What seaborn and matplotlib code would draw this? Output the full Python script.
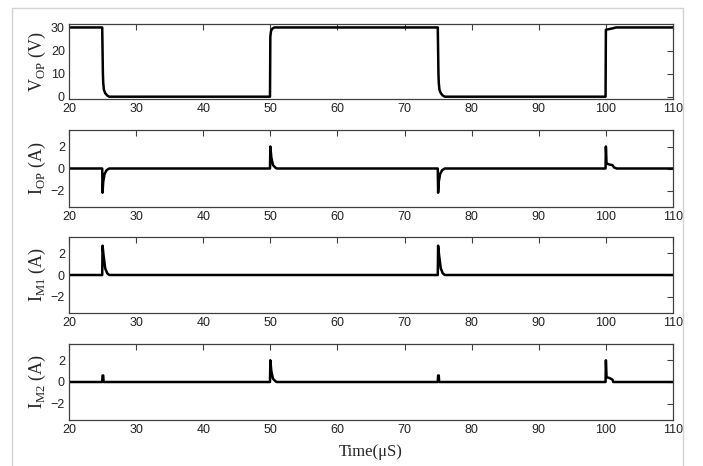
import seaborn as sns
import matplotlib.pyplot as plt
import pandas as pd
from matplotlib.patches import Rectangle

# Waveform breakpoints (time in uS)
t_vop = [20, 24.95, 25.0, 25.05, 25.1, 25.2, 25.4, 25.7, 26.0, 49.95, 50.0, 50.1, 50.3, 50.6, 51.0,
         74.95, 75.0, 75.05, 75.1, 75.2, 75.4, 75.7, 76.0, 99.95, 100.0, 100.5, 101.0, 101.5, 110]
v_op = [30, 30, 20, 10, 6, 3, 1.5, 0.5, 0, 0, 26, 28.5, 29.5, 30, 30,
        30, 20, 10, 6, 3, 1.5, 0.5, 0, 0, 29, 29.3, 29.6, 30, 30]

t_iop = [20, 24.95, 25.0, 25.1, 25.3, 25.6, 26.0, 49.95, 50.0, 50.15, 50.4, 50.8, 51.0,
         74.95, 75.0, 75.1, 75.3, 75.6, 76.0, 99.95, 100.0, 100.1, 100.6, 101.0, 101.2, 101.6, 110]
i_op = [0, 0, -2.2, -1.2, -0.5, -0.15, 0, 0, 2.0, 1.0, 0.3, 0.05, 0,
        0, -2.2, -1.2, -0.5, -0.15, 0, 0, 2.0, 0.45, 0.35, 0.3, 0.1, 0, 0]

t_im1 = [20, 24.95, 25.0, 25.15, 25.4, 25.7, 26.0, 74.95, 75.0, 75.15, 75.4, 75.7, 76.0, 110]
i_m1 = [0, 0, 2.7, 1.8, 0.6, 0.15, 0, 0, 2.7, 1.8, 0.6, 0.15, 0, 0]

t_im2 = [20, 24.95, 25.0, 25.1, 25.15, 49.95, 50.0, 50.15, 50.4, 50.8, 51.0,
         74.95, 75.0, 75.1, 75.15, 99.95, 100.0, 100.1, 100.6, 101.0, 101.1, 110]
i_m2 = [0, 0, 0.6, 0.6, 0, 0, 2.0, 1.0, 0.3, 0.05, 0,
        0, 0.6, 0.6, 0, 0, 2.0, 0.45, 0.35, 0.2, 0, 0]

ylabels = [r"V$_{\rm OP}$ (V)", r"I$_{\rm OP}$ (A)", r"I$_{\rm M1}$ (A)", r"I$_{\rm M2}$ (A)"]
xticks = [20, 30, 40, 50, 60, 70, 80, 90, 100, 110]

sns.set_style("white")
plt.rcParams["mathtext.fontset"] = "custom"
plt.rcParams["mathtext.rm"] = "Liberation Serif"

fig = plt.figure(figsize=(7.03, 4.66), dpi=100)
# light grey frame around the plot area
fig.patches.append(Rectangle((12 / 703, -0.05), (683 - 12) / 703, 1 - 8 / 466 + 0.05,
                             transform=fig.transFigure, fill=False, edgecolor="#d4d4d4", lw=1))

boxes = [(24, 99), (130, 207), (237, 313), (344, 420)]
series = [(t_vop, v_op), (t_iop, i_op), (t_im1, i_m1), (t_im2, i_m2)]
ylims = [(-1, 31.5), (-3.5, 3.5), (-3.5, 3.5), (-3.5, 3.5)]
yticks = [[0, 10, 20, 30], [-2, 0, 2], [-2, 0, 2], [-2, 0, 2]]

for (top, bot), (t, y), lab, yl, yt in zip(boxes, series, ylabels, ylims, yticks):
    ax = fig.add_axes([69 / 703, 1 - bot / 466, (673 - 69) / 703, (bot - top) / 466])
    df = pd.DataFrame({"t": t, "y": y})
    sns.lineplot(data=df, x="t", y="y", ax=ax, color="black", lw=1.8, sort=False, estimator=None)
    ax.set_xlim(20, 110)
    ax.set_ylim(*yl)
    ax.set_xticks(xticks)
    ax.set_yticks(yt)
    ax.set_xlabel("")
    ax.set_ylabel(lab, family="Liberation Serif", fontsize=13, labelpad=2)
    ax.tick_params(direction="in", length=4, width=0.8, color="#404040", labelsize=9,
                   top=True, right=True, pad=3, labelcolor="#222222")
    for s in ax.spines.values():
        s.set_color("#404040")
        s.set_linewidth(0.9)
    for lbl in ax.get_xticklabels() + ax.get_yticklabels():
        lbl.set_family("Liberation Sans")

ax.set_xlabel("Time(μS)", family="Liberation Serif", fontsize=12, labelpad=6)

fig.savefig("out.png", dpi=100, facecolor="white")
